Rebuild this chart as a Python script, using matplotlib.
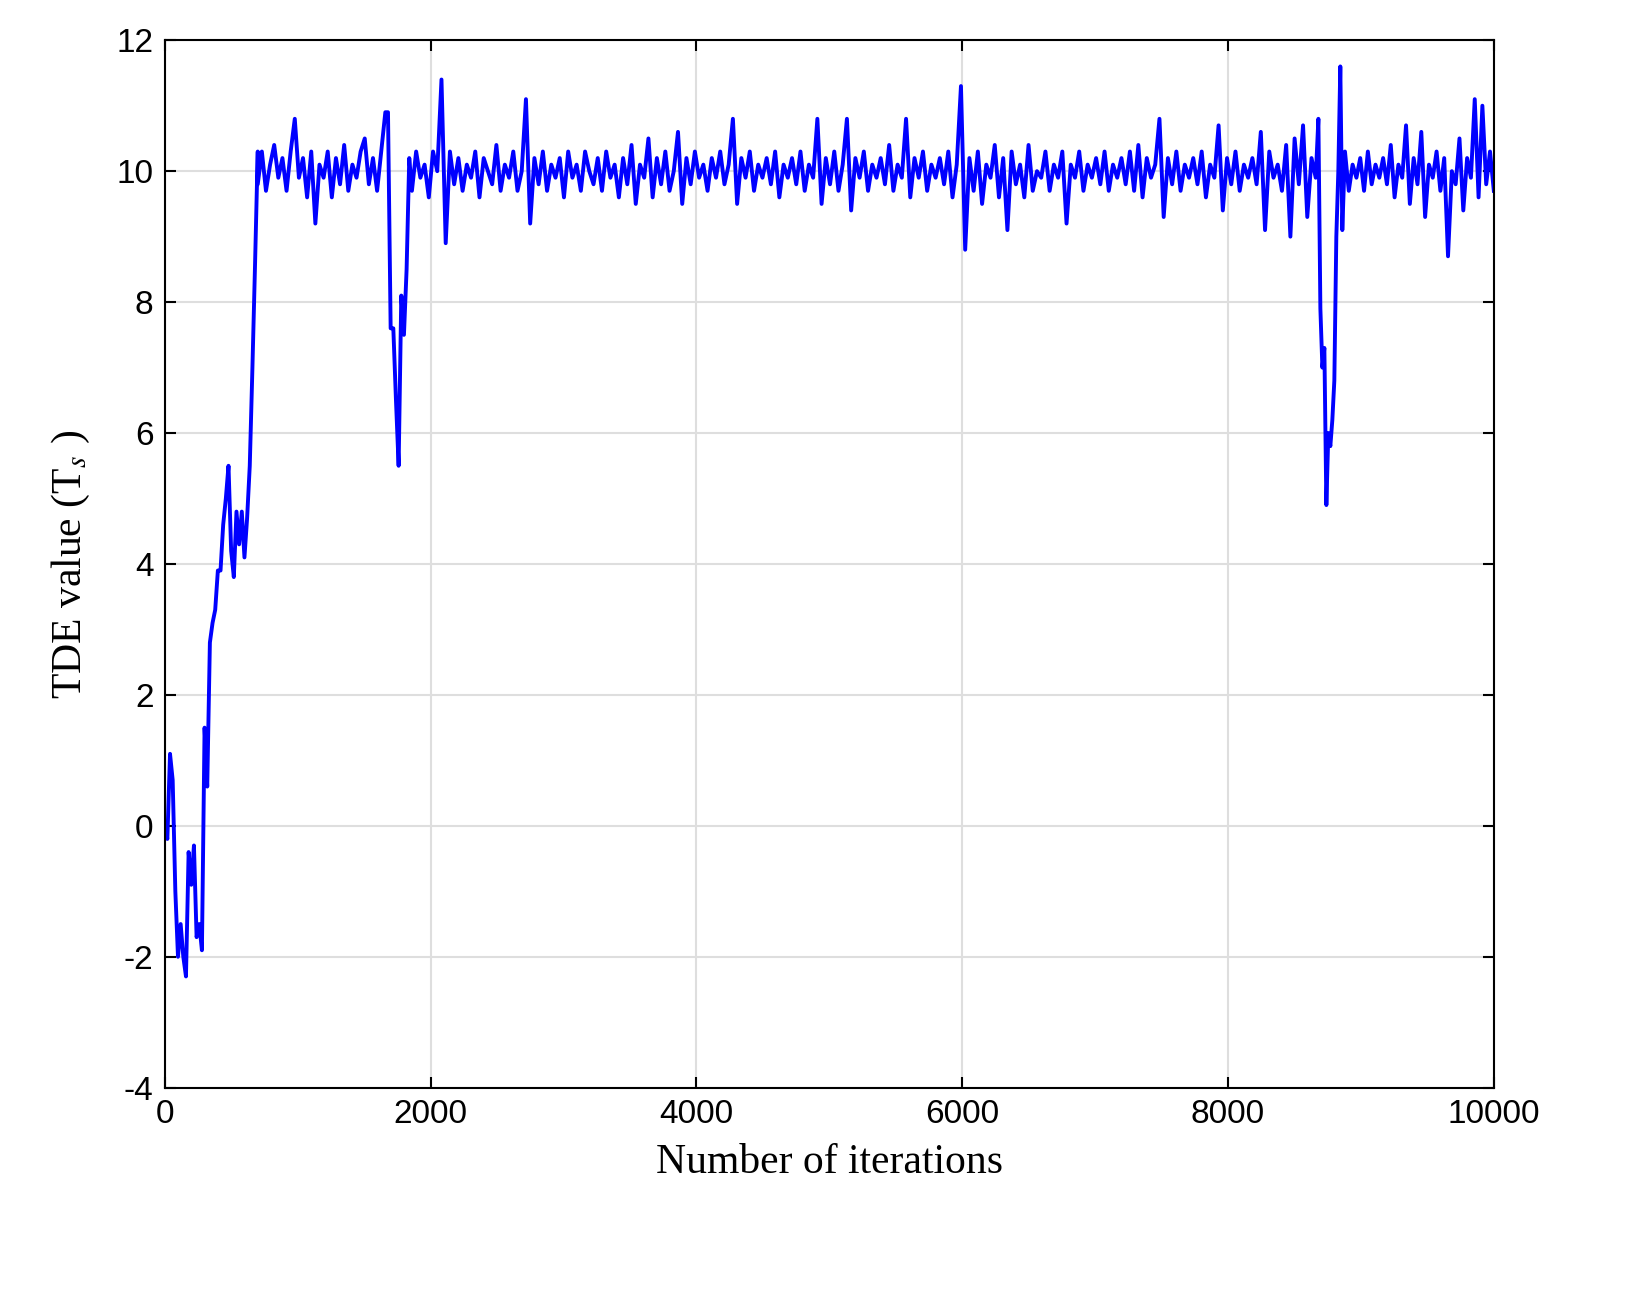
import numpy as np
import matplotlib
matplotlib.use("Agg")
import matplotlib.pyplot as plt

plt.rcParams['mathtext.fontset'] = 'stix'
plt.rcParams['axes.unicode_minus'] = False

# Initial transient (iteration, value)
x_start = [0,20,40,60,80,100,120,140,160,180,200,220,240,260,280,300,320,340,360,380,400,420,440,460,480,500,520,540,560,580,600,620,640,660,680,700]
y_start = [0,-0.2,1.1,0.7,-1.0,-2.0,-1.5,-2.0,-2.3,-0.4,-0.9,-0.3,-1.7,-1.5,-1.9,1.5,0.6,2.8,3.1,3.3,3.9,3.9,4.6,5.0,5.5,4.2,3.8,4.8,4.3,4.8,4.1,4.7,5.5,7.0,8.6,10.3]

y_seg1 = [9.8,10.3,9.7,10.1,10.4,9.9,10.2,9.7,10.3,10.8,9.9,10.2,9.6,10.3,9.2,10.1,9.9,10.3,9.6,10.2,9.8,10.4,9.7,10.1,9.9,10.3,10.5,9.8,10.2,9.7,10.3,10.9]
x_dip1 = [1680,1700,1720,1740,1760,1780,1800,1820,1840]
y_dip1 = [10.9,7.6,7.6,6.5,5.5,8.1,7.5,8.5,10.2]
y_seg2 = [9.7,10.3,9.9,10.1,9.6,10.3,10.0,11.4,8.9,10.3,9.8,10.2,9.7,10.1,9.9,10.3,9.6,10.2,10.0,9.8,10.4,9.7,10.1,9.9,10.3,9.7,10.0,11.1,9.2,10.2,
          9.8,10.3,9.7,10.1,9.9,10.2,9.6,10.3,9.9,10.1,9.7,10.3,10.0,9.8,10.2,9.7,10.3,9.9,10.1,9.6,10.2,9.8,10.4,9.5,10.1,9.9,10.5,9.6,10.2,9.8,
          10.3,9.7,10.0,10.6,9.5,10.2,9.8,10.3,9.9,10.1,9.7,10.2,9.9,10.3,9.8,10.1,10.8,9.5,10.2,9.9,10.3,9.7,10.1,9.9,10.2,9.8,10.3,9.6,10.1,9.9,
          10.2,9.8,10.3,9.7,10.1,9.9,10.8,9.5,10.2,9.8,10.3,9.7,10.1,10.8,9.4,10.2,9.9,10.3,9.7,10.1,9.9,10.2,9.8,10.4,9.7,10.1,9.9,10.8,9.6,10.2,
          9.9,10.3,9.7,10.1,9.9,10.2,9.8,10.3,9.6,10.1,11.3,8.8,10.2,9.7,10.3,9.5,10.1,9.9,10.4,9.6,10.2,9.1,10.3,9.8,10.1,9.6,10.4,9.7,10.0,9.9,
          10.3,9.7,10.1,9.9,10.3,9.2,10.1,9.9,10.3,9.7,10.1,9.9,10.2,9.8,10.3,9.7,10.1,9.9,10.2,9.8,10.3,9.7,10.4,9.6,10.2,9.9,10.1,10.8,9.3,10.2,
          9.8,10.3,9.7,10.1,9.9,10.2,9.8,10.3,9.6,10.1,9.9,10.7,9.4,10.2,9.8,10.3,9.7,10.1,9.9,10.2,9.8,10.6,9.1,10.3,9.9,10.1,9.7,10.4,9.0,10.5,
          9.8,10.7,9.3,10.2,9.9]
x_dip2 = [8680,8695,8710,8725,8740,8755,8770,8785,8800,8815,8830,8845,8860]
y_dip2 = [10.8,7.9,7.0,7.3,4.9,6.0,5.8,6.2,6.8,9.0,10.0,11.6,9.1]
y_seg3 = [10.3,9.7,10.1,9.9,10.2,9.7,10.3,9.8,10.1,9.9,10.2,9.8,10.4,9.6,10.1,9.9,10.7,9.5,10.2,9.8,10.6,9.3,10.1,9.9,10.3,9.7,10.2,8.7,10.0,9.8,
          10.5,9.4,10.2,9.9,11.1,9.6,11.0,9.8,10.3,9.7]

x_seg1 = np.linspace(700, 1660, len(y_seg1))
x_seg2 = np.linspace(1860, 8660, len(y_seg2))
x_seg3 = np.linspace(8880, 10000, len(y_seg3))

x = np.concatenate([x_start, x_seg1, x_dip1, x_seg2, x_dip2, x_seg3])
y = np.concatenate([y_start, y_seg1, y_dip1, y_seg2, y_dip2, y_seg3])

fig = plt.figure(figsize=(16.47, 12.98), dpi=100)
ax = fig.add_axes([0.100, 0.162, 0.807, 0.807])
ax.plot(x, y, color='#0000ff', lw=2.8)
ax.set_xlim(0, 10000)
ax.set_ylim(-4, 12)
ax.set_xticks(np.arange(0, 10001, 2000))
ax.set_yticks(np.arange(-4, 13, 2))
ax.grid(True, color='#dedede', lw=1.5)
ax.set_axisbelow(True)
for s in ax.spines.values():
    s.set_linewidth(1.5)
ax.tick_params(direction='in', length=8, width=1.5, labelsize=24, top=True, right=True, pad=8)
for lab in ax.get_xticklabels() + ax.get_yticklabels():
    lab.set_family('Liberation Sans')
ax.set_xlabel('Number of iterations', fontsize=30, family='Liberation Serif', labelpad=10)
ax.set_ylabel(r'TDE value (T$_s$ )', fontsize=30, family='Liberation Serif', labelpad=18)
fig.savefig('out.png', dpi=100)
